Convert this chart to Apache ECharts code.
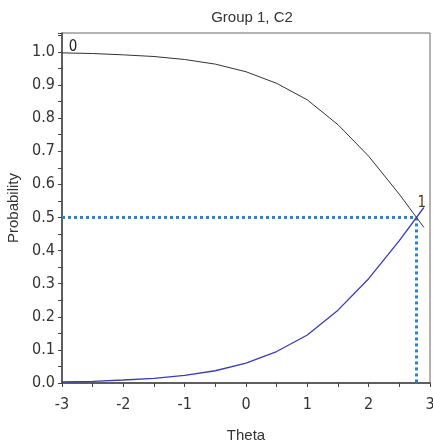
<!DOCTYPE html>
<html>
<head>
<meta charset="utf-8">
<script src="https://cdn.jsdelivr.net/npm/echarts@6/dist/echarts.min.js"></script>
<style>
  html, body { margin: 0; padding: 0; background: #fff; }
  #chart { width: 433px; height: 443px; }
</style>
</head>
<body>
<div id="chart"></div>
<script>
// values
var theta = [-3, -2.5, -2, -1.5, -1, -0.5, 0, 0.5, 1, 1.5, 2, 2.5, 2.9];
var cat0 = [0.997, 0.995, 0.991, 0.986, 0.977, 0.963, 0.94, 0.905, 0.855, 0.78, 0.685, 0.57, 0.47];
var cat1 = [0.003, 0.005, 0.009, 0.014, 0.023, 0.037, 0.06, 0.095, 0.145, 0.22, 0.315, 0.43, 0.53];
var crossTheta = 2.78;
var crossProb = 0.5;

var font = 'Liberation Sans';
var narrow = '"Liberation Sans Narrow", "DejaVu Sans Condensed", "Liberation Sans"';

function pairs(xs, ys) {
    var out = [];
    for (var i = 0; i < xs.length; i++) out.push([xs[i], ys[i]]);
    return out;
}

var myChart = echarts.init(document.getElementById('chart'));

var option = {
    animation: false,
    title: {
        text: 'Group 1, C2',
        left: 247,
        textAlign: 'center',
        top: 5,
        textStyle: { fontFamily: font, fontSize: 15, fontWeight: 'normal', color: '#333' }
    },
    grid: {
        left: 62, right: 3, top: 33, bottom: 60,
        outerBoundsMode: 'none',
        containLabel: false,
        show: true, borderColor: '#666', borderWidth: 1, backgroundColor: '#fff'
    },
    xAxis: {
        type: 'value',
        min: -3, max: 3, interval: 1,
        name: 'Theta',
        nameLocation: 'middle',
        nameGap: 45,
        nameTextStyle: { fontFamily: font, fontSize: 15, color: '#333' },
        axisLine: { onZero: false, lineStyle: { color: '#444', width: 1.5 } },
        axisTick: { show: true, length: 4, lineStyle: { color: '#444' } },
        minorTick: { show: true, splitNumber: 2, length: 4, lineStyle: { color: '#444' } },
        splitLine: { show: false },
        axisLabel: { fontFamily: narrow, fontSize: 16, color: '#333', margin: 14 }
    },
    yAxis: {
        type: 'value',
        min: 0, max: 1.057, interval: 0.1,
        name: 'Probability',
        nameLocation: 'middle',
        nameGap: 33,
        nameTextStyle: { fontFamily: font, fontSize: 15, color: '#333' },
        axisLine: { show: true, onZero: false, lineStyle: { color: '#444', width: 1.5 } },
        axisTick: { show: true, length: 4, lineStyle: { color: '#444' } },
        minorTick: { show: true, splitNumber: 2, length: 4, lineStyle: { color: '#444' } },
        splitLine: { show: false },
        axisLabel: {
            fontFamily: narrow, fontSize: 16, color: '#333', margin: 7,
            formatter: function (v) { return v > 1.001 ? '' : v.toFixed(1); }
        }
    },
    series: [
        {
            name: '0',
            type: 'line',
            data: pairs(theta, cat0),
            showSymbol: false,
            lineStyle: { color: '#333', width: 1 },
            markPoint: {
                symbol: 'rect', symbolSize: 0,
                data: [{ coord: [theta[0], cat0[0]], label: { show: true, formatter: '0', offset: [11, -6], fontFamily: narrow, fontSize: 15, color: '#222' } }]
            },
            z: 3
        },
        {
            name: '1',
            type: 'line',
            data: pairs(theta, cat1),
            showSymbol: false,
            lineStyle: { color: '#3a3db0', width: 1.3 },
            markPoint: {
                symbol: 'rect', symbolSize: 0,
                data: [{ coord: [theta[theta.length - 1], cat1[cat1.length - 1]], label: { show: true, formatter: '1', offset: [-2, -4], fontFamily: narrow, fontSize: 15, color: '#5a3a10' } }]
            },
            z: 3
        },
        {
            name: 'guideH',
            type: 'line',
            data: [[-3, crossProb], [crossTheta, crossProb]],
            showSymbol: false,
            lineStyle: { color: '#2f7fd6', width: 3, type: [3, 3] },
            z: 2
        },
        {
            name: 'guideV',
            type: 'line',
            data: [[crossTheta, crossProb], [crossTheta, 0]],
            showSymbol: false,
            lineStyle: { color: '#2f7fd6', width: 3, type: [3, 3] },
            z: 2
        }
    ]
};

myChart.setOption(option);
</script>
</body>
</html>
